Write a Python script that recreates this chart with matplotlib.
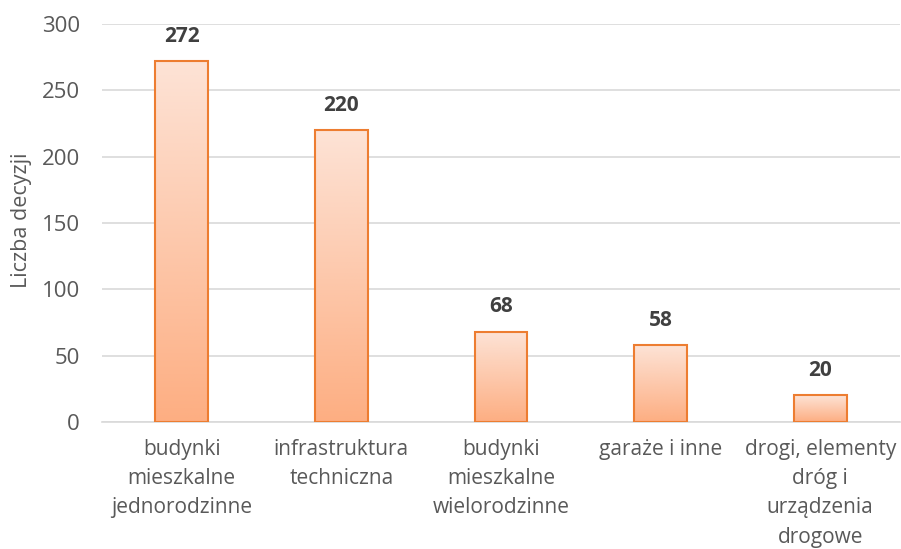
import matplotlib
matplotlib.use("Agg")
import matplotlib.pyplot as plt
import numpy as np
from matplotlib.colors import LinearSegmentedColormap
from matplotlib.patches import Rectangle

categories = ["budynki\nmieszkalne\njednorodzinne", "infrastruktura\ntechniczna",
              "budynki\nmieszkalne\nwielorodzinne", "garaże i inne",
              "drogi, elementy\ndróg i\nurządzenia\ndrogowe"]
values = [272, 220, 68, 58, 20]
yticks = [0, 50, 100, 150, 200, 250, 300]

plt.rcParams['font.family'] = ['Open Sans', 'DejaVu Sans']

fig = plt.figure(figsize=(9.01, 5.49), dpi=100)
ax = fig.add_axes([102/901, (549-422)/549, 798/901, (422-24)/549])

cmap = LinearSegmentedColormap.from_list("g", ["#FDAE82", "#FDE3D6"])
grad = np.linspace(0, 1, 256).reshape(-1, 1)
width = 0.33
x = np.arange(len(values))
for xi, v in zip(x, values):
    ax.imshow(grad, cmap=cmap, origin="lower", aspect="auto",
              extent=(xi - width/2, xi + width/2, 0, v), zorder=2)
    ax.add_patch(Rectangle((xi - width/2, 0), width, v, fill=False,
                           edgecolor="#ED7D31", linewidth=1.5, zorder=3))
    ax.annotate(str(v), (xi, v), xytext=(0, 14), textcoords="offset points",
                ha="center", va="baseline", fontsize=15, fontweight="bold",
                color="#404040")

ax.set_xlim(-0.5, len(values) - 0.5)
ax.set_ylim(0, 300)
ax.set_yticks(yticks)
ax.set_xticks(x)
ax.set_xticklabels(categories, fontsize=15, color="#595959", linespacing=1.52)
ax.tick_params(axis="y", labelsize=16, labelcolor="#595959", length=0, pad=16)
ax.tick_params(axis="x", length=0, pad=12)
ax.grid(axis="y", color="#D9D9D9", linewidth=1.2, zorder=0)
ax.set_axisbelow(True)
for s in ["top", "right", "left"]:
    ax.spines[s].set_visible(False)
ax.spines["bottom"].set_color("#D9D9D9")
ax.spines["bottom"].set_linewidth(1.2)
fig.text(22/901, 1 - 220/549, "Liczba decyzji", rotation=90, ha="center",
         va="center", fontsize=15.5, color="#595959")

fig.savefig("out.png", dpi=100)
